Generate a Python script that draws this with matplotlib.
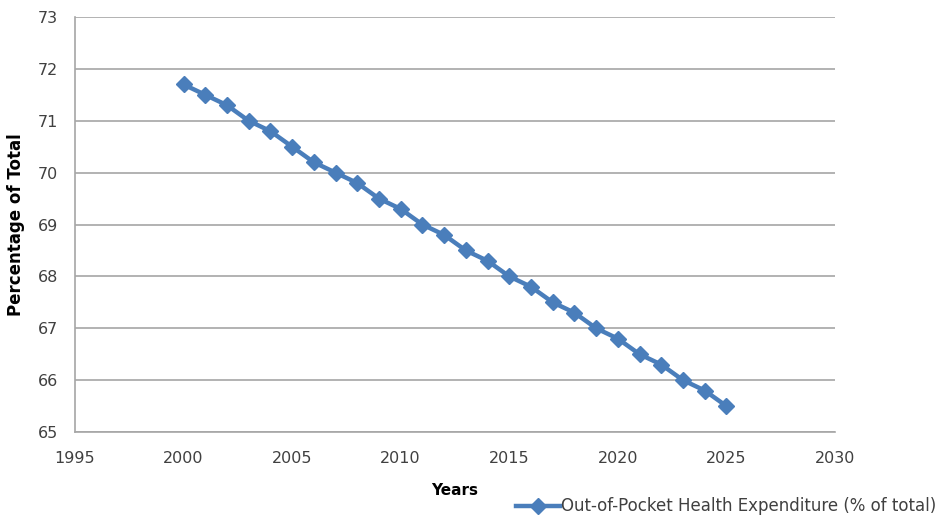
import matplotlib
matplotlib.use("Agg")
import matplotlib.pyplot as plt
from matplotlib.lines import Line2D

years = list(range(2000, 2026))
oop_share = [71.7, 71.5, 71.3, 71.0, 70.8, 70.5, 70.2, 70.0, 69.8, 69.5,
             69.3, 69.0, 68.8, 68.5, 68.3, 68.0, 67.8, 67.5, 67.3, 67.0,
             66.8, 66.5, 66.3, 66.0, 65.8, 65.5]
series_name = "Out-of-Pocket Health Expenditure (% of total)"
x_ticks = [1995, 2000, 2005, 2010, 2015, 2020, 2025, 2030]
y_ticks = [65, 66, 67, 68, 69, 70, 71, 72, 73]

plt.rcParams['font.family'] = ['DejaVu Sans']
blue = '#4A7EBB'
grid_c = '#A6A6A6'
txt_c = '#404040'

fig = plt.figure(figsize=(9.44, 5.19), dpi=100)
ax = fig.add_axes([0.0794, 0.1676, 0.8051, 0.7996])

ax.plot(years, oop_share, color=blue, lw=3.2, marker='D', ms=8,
        markeredgecolor=blue, markerfacecolor=blue, zorder=3)

ax.set_xlim(1995, 2030)
ax.set_ylim(65, 73)
ax.set_xticks(x_ticks)
ax.set_yticks(y_ticks)
ax.yaxis.grid(True, color=grid_c, lw=1.2)
ax.set_axisbelow(True)
for s in ['top', 'right']:
    ax.spines[s].set_visible(False)
for s in ['left', 'bottom']:
    ax.spines[s].set_color(grid_c)
    ax.spines[s].set_linewidth(1.2)
ax.tick_params(axis='both', length=0, labelsize=11.5, colors=txt_c)
ax.tick_params(axis='x', pad=14)
ax.tick_params(axis='y', pad=12)

ax.set_xlabel("Years", fontsize=11, fontweight='bold', labelpad=12, color='black')
ax.set_ylabel("Percentage of Total", fontsize=12, fontweight='bold', color='black')
ax.yaxis.set_label_coords(-0.066, 0.5)

handle = Line2D([], [], color=blue, lw=3.2, marker='D', ms=8)
fig.legend([handle], [series_name], loc='lower right', bbox_to_anchor=(1.008, -0.022),
           frameon=False, fontsize=12, handlelength=2.6, handletextpad=0.1,
           labelcolor=txt_c)

fig.savefig("out.png", dpi=100)
